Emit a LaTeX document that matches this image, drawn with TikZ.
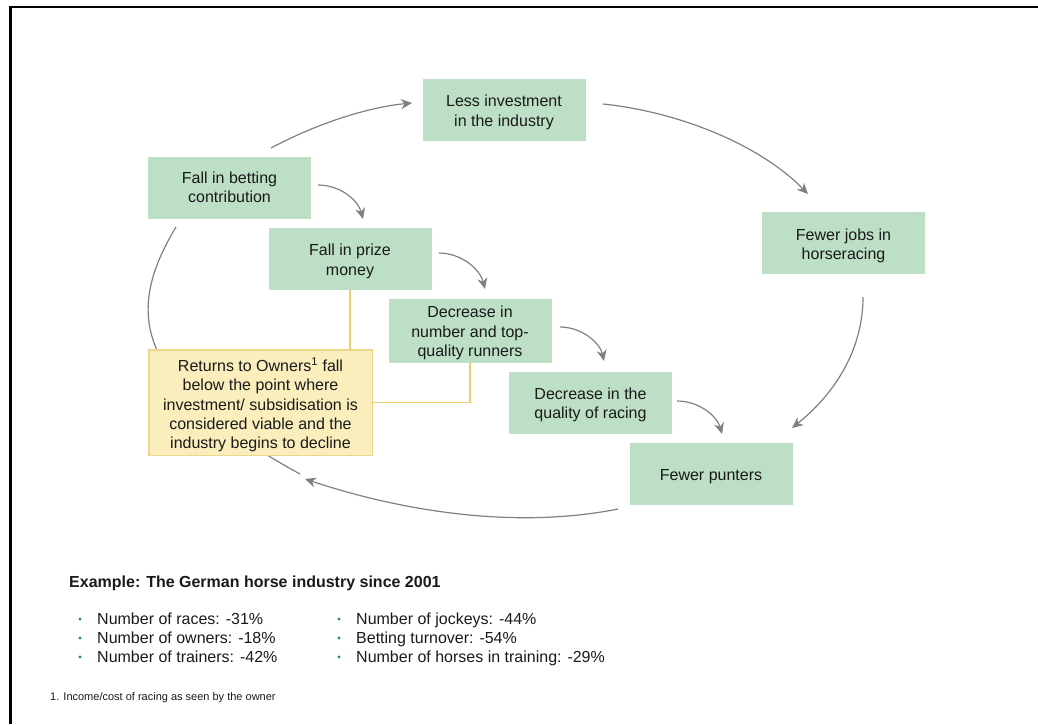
\documentclass[tikz,border=0pt]{standalone}
\usepackage{fontspec}
\setmainfont{Liberation Sans}
\usetikzlibrary{arrows.meta}
\pgfdeclarelayer{background}
\pgfsetlayers{background,main}
\definecolor{boxgreen}{HTML}{BCDFC5}
\definecolor{noteyellow}{HTML}{F9EEBC}
\definecolor{noteedge}{HTML}{EBD689}
\definecolor{linkgold}{HTML}{E8CF70}
\definecolor{flowgray}{HTML}{808080}
\definecolor{bulletgreen}{HTML}{2E8B57}
\definecolor{ink}{HTML}{1A1A1A}
% centred block of lines, pushed down by half of #1 inside its box
\newcommand\boxlines[2]{\raisebox{0pt}[\dimexpr\height+#1\relax][\depth]{\begin{tabular}{@{}c@{}}#2\end{tabular}}}
\begin{document}
\begin{tikzpicture}[x=1pt,y=-1pt,
  stage/.style={fill=boxgreen, minimum width=163pt, minimum height=62pt, inner sep=0pt,
    text=ink, font=\fontsize{16}{19.4}\selectfont},
  note/.style={fill=noteyellow, draw=noteedge, line width=1.5pt, minimum width=223.5pt,
    minimum height=105.5pt, inner sep=0pt, text=ink,
    font=\fontsize{16}{19.3}\selectfont},
  flow/.style={draw=flowgray, line width=1.2pt, -{Stealth[length=11pt,width=10pt,inset=3.5pt]}},
  arcline/.style={draw=flowgray, line width=1.2pt},
  link/.style={draw=linkgold, line width=1.5pt},
  plain/.style={anchor=base west, inner sep=0pt, text=ink},
  fact/.style={plain, font=\fontsize{16}{19}\selectfont},
  dot/.style={circle, fill=bulletgreen, inner sep=0pt, minimum size=3.4pt}]

\useasboundingbox (0,0) rectangle (1038,724);

% page frame (top and left rules)
\draw[line width=2.5pt] (10.7,724) -- (10.7,7.2) -- (1038,7.2);

% stages of the decline cycle
\node[stage] (invest)  at (504,109.5)   {\boxlines{6pt}{Less investment\\in the industry}};
\node[stage] (bet)     at (229.5,188)   {\boxlines{2pt}{Fall in betting\\contribution}};
\node[stage] (prize)   at (350,259)     {\boxlines{5pt}{Fall in prize\\money}};
\node[stage] (runners) at (470,331)     {\boxlines{5pt}{Decrease in\\number and top-\\quality runners}};
\node[stage] (quality) at (590.5,402.5) {\boxlines{5pt}{Decrease in the\\quality of racing}};
\node[stage] (punters) at (711,474)     {\boxlines{6pt}{Fewer punters}};
\node[stage] (jobs)    at (843.5,243)   {\boxlines{6pt}{Fewer jobs in\\horseracing}};
\node[note]  (owners)  at (260.5,402.5) {\boxlines{7pt}{Returns to Owners\textsuperscript{1} fall\\below the point where\\investment/ subsidisation is\\considered viable and the\\industry begins to decline}};

% arrow end points
\coordinate (a1s) at (271,148);  \coordinate (a1e) at (412,103);
\coordinate (a2s) at (603,104);  \coordinate (a2e) at (808,194);
\coordinate (a3s) at (863,297);  \coordinate (a3e) at (792,428);
\coordinate (a4s) at (618,509);  \coordinate (a4e) at (305,479);
\coordinate (a5s) at (300,474);  \coordinate (a5e) at (176,227);
\coordinate (s1s) at (318,185);  \coordinate (s1e) at (363,219);
\coordinate (s2s) at (439,253);  \coordinate (s2e) at (485,289);
\coordinate (s3s) at (560,327);  \coordinate (s3e) at (604,361);
\coordinate (s4s) at (677,401);  \coordinate (s4e) at (722,434);

\begin{pgfonlayer}{background}
  % outer cycle
  \draw[flow] (a1s) .. controls (320,122) and (370,107) .. (a1e);
  \draw[flow] (a2s) .. controls (680,112) and (760,145) .. (a2e);
  \draw[flow] (a3s) .. controls (863,346.5) and (838,391) .. (a3e);
  \draw[flow] (a4s) .. controls (513,530) and (398,510) .. (a4e);
  \draw[arcline] (a5s) .. controls (130,381) and (126,310) .. (a5e);
  % inner cascade
  \draw[flow] (s1s) .. controls (340,185) and (358,200) .. (s1e);
  \draw[flow] (s2s) .. controls (461,253) and (480,269) .. (s2e);
  \draw[flow] (s3s) .. controls (582,327) and (600,343) .. (s3e);
  \draw[flow] (s4s) .. controls (699,401) and (717,416) .. (s4e);
  % links to the owners' note
  \draw[link] (prize.south) -- (prize.south |- owners.north);
  \draw[link] (runners.south) |- (owners.east);
\end{pgfonlayer}

% example figures
\node[plain, font=\bfseries\fontsize{16}{19}\selectfont] (head) at (69,587)
  {Example: The German horse industry since 2001};

\node[fact] (r1) at (97,624)  {Number of races: -31\%};
\node[fact] (r2) at (97,643)  {Number of owners: -18\%};
\node[fact] (r3) at (97,662)  {Number of trainers: -42\%};
\node[fact] (r4) at (356,624) {Number of jockeys: -44\%};
\node[fact] (r5) at (356,643) {Betting turnover: -54\%};
\node[fact] (r6) at (356,662) {Number of horses in training: -29\%};

\node[dot] (b1) at (80,619)  {};
\node[dot] (b2) at (80,638)  {};
\node[dot] (b3) at (80,657)  {};
\node[dot] (b4) at (339,619) {};
\node[dot] (b5) at (339,638) {};
\node[dot] (b6) at (339,657) {};

% footnote
\node[plain, font=\fontsize{11}{13}\selectfont] (fn) at (50,700)
  {1. Income/cost of racing as seen by the owner};
\end{tikzpicture}
\end{document}
